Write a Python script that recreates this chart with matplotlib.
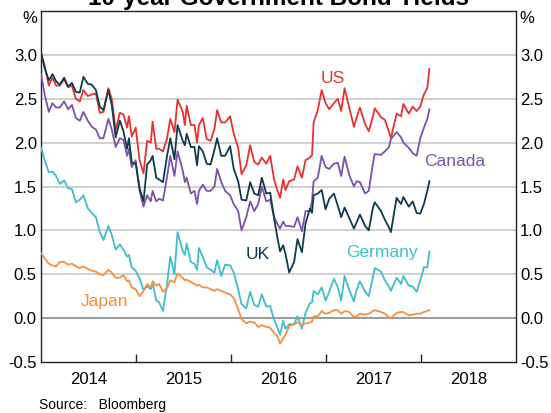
import matplotlib
matplotlib.use("Agg")
import matplotlib.pyplot as plt
import matplotlib.transforms as mtransforms
import pandas as pd

plt.rcParams['font.family'] = ['Liberation Sans', 'DejaVu Sans']

# ---------------- data ----------------
dates = [
    "2014-01-02", "2014-01-15", "2014-01-31", "2014-02-14", "2014-02-28", "2014-03-14", "2014-03-31",
    "2014-04-15", "2014-04-30", "2014-05-15", "2014-05-30", "2014-06-13", "2014-06-30", "2014-07-15",
    "2014-07-31", "2014-08-15", "2014-08-29", "2014-09-17", "2014-09-30", "2014-10-15", "2014-10-31",
    "2014-11-14", "2014-11-28", "2014-12-05", "2014-12-16", "2014-12-31",
    "2015-01-15", "2015-01-30", "2015-02-13", "2015-02-27", "2015-03-06", "2015-03-20", "2015-03-31",
    "2015-04-15", "2015-04-30", "2015-05-13", "2015-05-29", "2015-06-10", "2015-06-30", "2015-07-08",
    "2015-07-15", "2015-07-31", "2015-08-14", "2015-08-24", "2015-08-31", "2015-09-15", "2015-09-30",
    "2015-10-15", "2015-10-30", "2015-11-09", "2015-11-25", "2015-12-10", "2015-12-29",
    "2016-01-12", "2016-01-29", "2016-02-11", "2016-02-29", "2016-03-15", "2016-03-31", "2016-04-15",
    "2016-04-29", "2016-05-16", "2016-05-31", "2016-06-15", "2016-06-27", "2016-07-08", "2016-07-20",
    "2016-07-29", "2016-08-12", "2016-08-31", "2016-09-13", "2016-09-30", "2016-10-14", "2016-10-31",
    "2016-11-08", "2016-11-14", "2016-11-30", "2016-12-15", "2016-12-30",
    "2017-01-13", "2017-01-31", "2017-02-15", "2017-02-28", "2017-03-13", "2017-03-31", "2017-04-18",
    "2017-04-28", "2017-05-11", "2017-05-31", "2017-06-14", "2017-06-30", "2017-07-07", "2017-07-31",
    "2017-08-15", "2017-08-31", "2017-09-07", "2017-09-29", "2017-10-16", "2017-10-25", "2017-11-15",
    "2017-11-30", "2017-12-15", "2017-12-29",
    "2018-01-12", "2018-01-25", "2018-02-02",
]

us = [
    3.00, 2.88, 2.65, 2.74, 2.65, 2.65, 2.72, 2.63, 2.65, 2.50, 2.47, 2.60, 2.53, 2.55, 2.56, 2.34, 2.35,
    2.62, 2.50, 2.14, 2.34, 2.32, 2.17, 2.30, 2.07, 2.17,
    1.80, 1.65, 2.02, 2.00, 2.24, 1.93, 1.93, 1.90, 2.04, 2.27, 2.12, 2.49, 2.35, 2.20, 2.42, 2.20, 2.20,
    2.00, 2.20, 2.28, 2.04, 2.02, 2.16, 2.37, 2.23, 2.23, 2.30,
    2.10, 1.94, 1.64, 1.74, 1.97, 1.78, 1.75, 1.83, 1.76, 1.85, 1.58, 1.46, 1.37, 1.58, 1.46, 1.56, 1.58,
    1.73, 1.60, 1.80, 1.83, 1.86, 2.23, 2.37, 2.60, 2.45,
    2.38, 2.45, 2.50, 2.36, 2.62, 2.40, 2.18, 2.28, 2.40, 2.21, 2.13, 2.30, 2.39, 2.29, 2.26, 2.12, 2.05,
    2.33, 2.30, 2.44, 2.33, 2.41, 2.36, 2.41,
    2.55, 2.62, 2.84,
]

uk = [
    3.02, 2.85, 2.71, 2.78, 2.70, 2.66, 2.74, 2.64, 2.68, 2.58, 2.57, 2.75, 2.67, 2.66, 2.60, 2.41, 2.37,
    2.60, 2.43, 2.06, 2.25, 2.13, 1.93, 2.05, 1.77, 1.76,
    1.48, 1.33, 1.75, 1.80, 1.85, 1.60, 1.58, 1.55, 1.84, 2.05, 1.81, 2.20, 2.02, 1.97, 2.10, 1.95, 1.95,
    1.74, 1.96, 1.90, 1.76, 1.75, 1.92, 2.05, 1.85, 1.85, 1.96,
    1.70, 1.56, 1.35, 1.34, 1.55, 1.42, 1.40, 1.60, 1.42, 1.43, 1.14, 0.93, 0.76, 0.83, 0.73, 0.52, 0.64,
    0.90, 0.75, 1.08, 1.25, 1.20, 1.40, 1.42, 1.46, 1.24,
    1.36, 1.42, 1.28, 1.15, 1.26, 1.14, 1.02, 1.09, 1.18, 1.05, 1.00, 1.26, 1.32, 1.22, 1.12, 1.03, 0.98,
    1.37, 1.30, 1.38, 1.27, 1.33, 1.20, 1.19,
    1.30, 1.45, 1.56,
]

canada = [
    2.77, 2.55, 2.35, 2.45, 2.40, 2.40, 2.47, 2.38, 2.43, 2.28, 2.25, 2.35, 2.25, 2.18, 2.15, 2.05, 2.05,
    2.27, 2.15, 1.95, 2.05, 2.03, 1.85, 1.93, 1.72, 1.80,
    1.45, 1.27, 1.40, 1.33, 1.45, 1.33, 1.36, 1.34, 1.60, 1.85, 1.62, 1.90, 1.68, 1.55, 1.60, 1.42, 1.45,
    1.30, 1.45, 1.52, 1.45, 1.45, 1.50, 1.70, 1.55, 1.45, 1.40,
    1.30, 1.22, 1.00, 1.15, 1.33, 1.22, 1.30, 1.50, 1.33, 1.35, 1.15, 1.08, 1.02, 1.10, 1.05, 1.05, 1.04,
    1.15, 0.99, 1.22, 1.22, 1.34, 1.56, 1.60, 1.85, 1.72,
    1.70, 1.76, 1.77, 1.62, 1.84, 1.63, 1.50, 1.56, 1.55, 1.42, 1.45, 1.76, 1.87, 1.86, 1.90, 1.95, 2.04,
    2.12, 2.06, 2.00, 1.94, 1.88, 1.85, 2.05,
    2.17, 2.27, 2.38,
]

germany = [
    1.94, 1.80, 1.66, 1.67, 1.62, 1.53, 1.57, 1.48, 1.47, 1.32, 1.35, 1.40, 1.25, 1.20, 1.15, 0.98, 0.89,
    1.05, 0.95, 0.78, 0.84, 0.78, 0.70, 0.72, 0.58, 0.54,
    0.45, 0.32, 0.36, 0.33, 0.40, 0.20, 0.18, 0.08, 0.37, 0.70, 0.50, 0.98, 0.76, 0.72, 0.85, 0.64, 0.62,
    0.55, 0.80, 0.70, 0.58, 0.55, 0.52, 0.66, 0.48, 0.61, 0.60,
    0.52, 0.33, 0.16, 0.11, 0.30, 0.15, 0.13, 0.27, 0.13, 0.14, -0.02, -0.10, -0.19, -0.03, -0.12, -0.07,
    -0.07, 0.02, -0.12, 0.06, 0.17, 0.18, 0.31, 0.27, 0.35, 0.20,
    0.30, 0.45, 0.35, 0.20, 0.48, 0.32, 0.19, 0.32, 0.42, 0.30, 0.25, 0.47, 0.57, 0.53, 0.43, 0.36, 0.31,
    0.46, 0.39, 0.48, 0.37, 0.36, 0.30, 0.43,
    0.58, 0.58, 0.76,
]

japan = [
    0.74, 0.68, 0.62, 0.60, 0.59, 0.64, 0.64, 0.61, 0.62, 0.59, 0.57, 0.59, 0.56, 0.54, 0.53, 0.50, 0.49,
    0.55, 0.52, 0.46, 0.46, 0.49, 0.42, 0.43, 0.35, 0.33,
    0.25, 0.31, 0.39, 0.35, 0.42, 0.37, 0.39, 0.30, 0.34, 0.43, 0.41, 0.51, 0.46, 0.43, 0.44, 0.41, 0.39,
    0.37, 0.38, 0.35, 0.35, 0.33, 0.31, 0.33, 0.31, 0.29, 0.27,
    0.23, 0.10, -0.01, -0.06, -0.04, -0.05, -0.10, -0.08, -0.10, -0.11, -0.17, -0.20, -0.29, -0.23, -0.19,
    -0.09, -0.07, -0.05, -0.08, -0.06, -0.05, -0.04, 0.02, 0.02, 0.08, 0.05,
    0.06, 0.09, 0.09, 0.05, 0.08, 0.07, 0.01, 0.02, 0.05, 0.04, 0.05, 0.08, 0.09, 0.07, 0.05, 0.01, 0.00,
    0.06, 0.07, 0.07, 0.03, 0.04, 0.05, 0.05,
    0.07, 0.08, 0.09,
]

series_names = ["US", "Canada", "UK", "Germany", "Japan"]
series_vals = [us, canada, uk, germany, japan]
series_colors = ["#e8312f", "#7c52aa", "#0e3b4c", "#3dbfca", "#f68f3c"]
label_dates = ["2017-01-26", "2018-05-12", "2016-04-13", "2017-08-04", "2014-09-02"]
label_vals = [2.73, 1.78, 0.72, 0.75, 0.19]

year_labels = ["2014", "2015", "2016", "2017", "2018"]
y_ticks = [-0.5, 0.0, 0.5, 1.0, 1.5, 2.0, 2.5, 3.0]

title = "10-year Government Bond Yields"
source = "Source:   Bloomberg"

# ---------------- plot ----------------
fig = plt.figure(figsize=(5.51, 4.13), dpi=100)
ax = fig.add_axes([41 / 551, 1 - 362 / 413, 475 / 551, 351 / 413])

x = pd.to_datetime(dates)
for name, vals, col in zip(series_names, series_vals, series_colors):
    ax.plot(x, vals, color=col, lw=1.3, zorder=3, solid_joinstyle='round')

for name, d, v, col in zip(series_names, label_dates, label_vals, series_colors):
    ax.text(pd.Timestamp(d), v, name, color=col, fontsize=12.5, ha='center', va='center', zorder=4)

ax.set_xlim(pd.Timestamp("2014-01-01"), pd.Timestamp("2019-01-01"))
ax.set_ylim(-0.5, 3.5)

# gridlines
for t in y_ticks[1:]:
    ax.axhline(t, color="#7f7f7f" if t == 0 else "#c4c4c4", lw=1.1, zorder=1)

ax.set_yticks(y_ticks)
ax.set_yticklabels([f"{t:.1f}" for t in y_ticks])
ax.tick_params(axis='y', which='both', length=0, labelsize=12, labelleft=True, labelright=True, pad=3)

major = pd.to_datetime([f"{y}-01-01" for y in year_labels[1:]])
minor = pd.to_datetime([f"{y}-07-02" for y in year_labels])
ax.set_xticks(major)
ax.set_xticklabels([])
ax.set_xticks(minor, minor=True)
ax.set_xticklabels(year_labels, minor=True)
ax.tick_params(axis='x', which='major', direction='in', length=6, width=1, color="#222222")
ax.tick_params(axis='x', which='minor', length=0, labelsize=12, pad=7)

for s in ax.spines.values():
    s.set_color("#222222")
    s.set_linewidth(1.0)

trans_l = mtransforms.blended_transform_factory(ax.transAxes, ax.transData)
ax.text(-0.008, 3.5, "%", transform=trans_l, ha='right', va='top', fontsize=12)
ax.text(1.008, 3.5, "%", transform=trans_l, ha='left', va='top', fontsize=12)

fig.text(279 / 551, 1 - 5 / 413, title, ha='center', va='baseline', fontsize=17.5, fontweight='bold')
fig.text(39 / 551, 1 - 409 / 413, source, ha='left', va='baseline', fontsize=10)

fig.savefig("out.png", dpi=100)
